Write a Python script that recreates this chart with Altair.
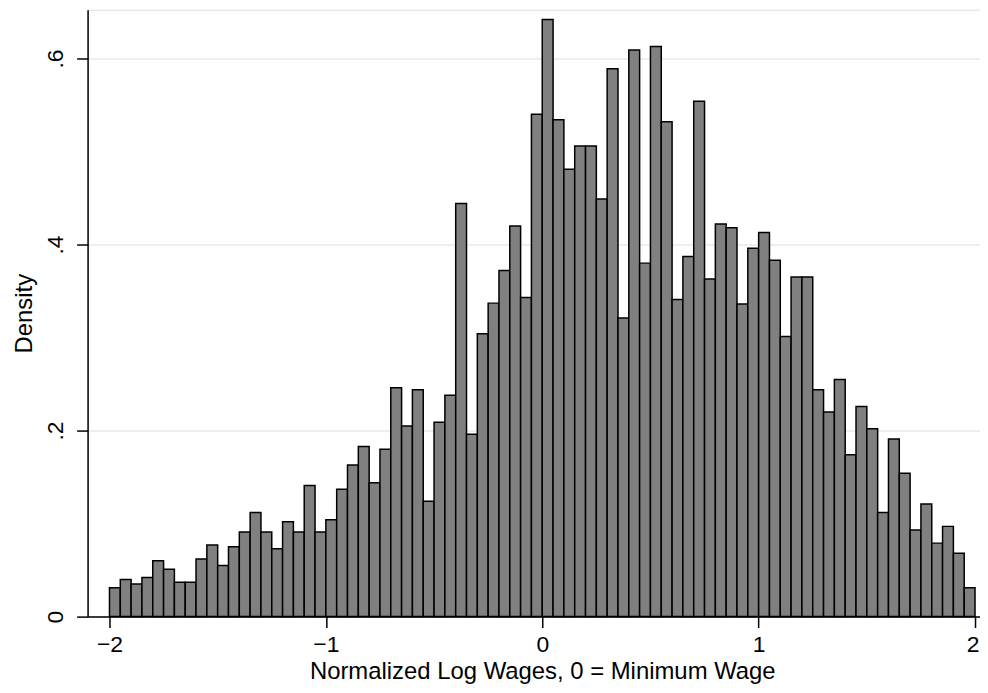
import altair as alt
import pandas as pd
import numpy as np

# Histogram densities, bins of width 0.05 from -2 to 2
density = [
    0.031, 0.040, 0.035, 0.042, 0.060, 0.051, 0.037, 0.037, 0.062, 0.077,
    0.055, 0.075, 0.091, 0.112, 0.091, 0.073, 0.102, 0.091, 0.141, 0.091,
    0.104, 0.137, 0.163, 0.183, 0.144, 0.180, 0.246, 0.205, 0.244, 0.124,
    0.209, 0.238, 0.444, 0.196, 0.304, 0.337, 0.372, 0.420, 0.343, 0.540,
    0.642, 0.534, 0.481, 0.506, 0.506, 0.449, 0.589, 0.321, 0.609, 0.380,
    0.613, 0.532, 0.341, 0.387, 0.554, 0.363, 0.422, 0.418, 0.336, 0.396,
    0.413, 0.383, 0.301, 0.365, 0.365, 0.244, 0.220, 0.255, 0.174, 0.226,
    0.202, 0.112, 0.191, 0.154, 0.093, 0.121, 0.079, 0.097, 0.068, 0.031,
]
bin_width = 0.05
bin_start = [round(-2 + i * bin_width, 2) for i in range(len(density))]
bin_end = [round(s + bin_width, 2) for s in bin_start]

x_ticks = [-2, -1, 0, 1, 2]
y_ticks = [0, 0.2, 0.4, 0.6]

df = pd.DataFrame({"start": bin_start, "end": bin_end, "density": density})

FONT = "Liberation Sans"

chart = alt.Chart(df).mark_rect(
    fill="#808080", stroke="#000000", strokeWidth=1.5
).encode(
    x=alt.X(
        "start:Q",
        scale=alt.Scale(domain=[-2.10115, 2.02299], nice=False, zero=False),
        axis=alt.Axis(
            values=x_ticks, format="d", grid=False,
            title="Normalized Log Wages, 0 = Minimum Wage",
            titleFont=FONT, titleFontSize=24, titleFontWeight="normal",
            titleColor="#000000", titleX=457, titleY=62,
            titleBaseline="alphabetic", titleAlign="center",
            labelFont=FONT, labelFontSize=23, labelColor="#000000",
            labelBaseline="alphabetic", labelPadding=24,
            labelFlush=10, labelFlushOffset=4,
            tickSize=11, tickWidth=1.5, tickColor="#000000",
            domainColor="#000000", domainWidth=1.5,
        ),
    ),
    x2="end:Q",
    y=alt.Y(
        "density:Q",
        scale=alt.Scale(domain=[0, 0.6524], nice=False),
        axis=alt.Axis(
            values=y_ticks,
            labelExpr="datum.value == 0 ? '0' : replace(format(datum.value, '.1f'), '0.', '.')",
            grid=True, gridColor="#e8e8e8", gridWidth=1.5,
            title="Density",
            titleFont=FONT, titleFontSize=24, titleFontWeight="normal",
            titleColor="#000000", titleAngle=270, titleX=-56, titleY=305,
            titleBaseline="alphabetic", titleAlign="center",
            labelFont=FONT, labelFontSize=23, labelColor="#000000",
            labelAngle=270, labelAlign="center", labelBaseline="alphabetic",
            labelPadding=14,
            tickSize=11, tickWidth=1.5, tickColor="#000000",
            domainColor="#000000", domainWidth=1.5,
            labelFlush=False,
        ),
    ),
    y2=alt.datum(0),
).properties(
    width=897,
    height=610,
    autosize=alt.AutoSizeParams(type="none"),
    padding={"left": 80, "top": 0, "right": 0, "bottom": 67},
).configure_view(
    stroke=None
).configure(
    background="#ffffff"
)

chart.save("out.html", embed_options={"renderer": "svg", "actions": False})
